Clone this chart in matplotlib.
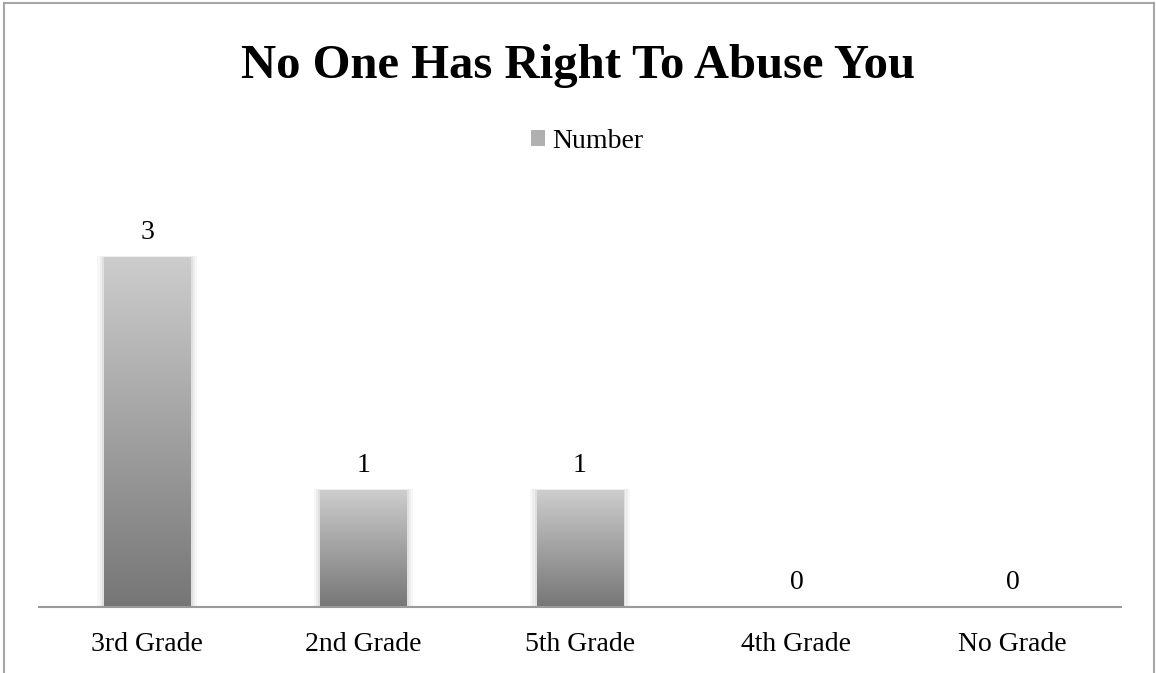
import numpy as np
import matplotlib
matplotlib.use("Agg")
import matplotlib.pyplot as plt
from matplotlib.colors import LinearSegmentedColormap
from matplotlib.patches import Rectangle

categories = ["3rd Grade", "2nd Grade", "5th Grade", "4th Grade", "No Grade"]
values = [3, 1, 1, 0, 0]
series_name = "Number"
title = "No One Has Right To Abuse You"

plt.rcParams["font.family"] = ["Liberation Serif", "DejaVu Serif"]

fig = plt.figure(figsize=(11.56, 6.73), dpi=100)
ax = fig.add_axes([39 / 1156, 1 - 607 / 673, 1082 / 1156, 408 / 673])

# frame around the whole chart (open at the bottom like the source crop)
border = dict(color="#a6a6a6", lw=1.5, transform=fig.transFigure)
fig.add_artist(plt.Line2D([4 / 1156, 4 / 1156], [0, 1 - 3 / 673], **border))
fig.add_artist(plt.Line2D([4 / 1156, 1154 / 1156], [1 - 3 / 673, 1 - 3 / 673], **border))
fig.add_artist(plt.Line2D([1154 / 1156, 1154 / 1156], [0, 1 - 3 / 673], **border))

x = np.arange(len(categories))
bars = ax.bar(x, values, width=0.4, color="none", edgecolor="none")

grad = LinearSegmentedColormap.from_list("g", ["#767676", "#cdcdcd"])
g = np.linspace(0, 1, 256).reshape(-1, 1)
for b in bars:
    h = b.get_height()
    if h <= 0:
        continue
    x0 = b.get_x()
    w = b.get_width()
    # soft shadow
    for k, a in [(0.03, 0.03), (0.02, 0.04), (0.01, 0.05)]:
        ax.add_patch(Rectangle((x0 - k, 0), w + 2 * k, h + k * 0.5, color="black", alpha=a, lw=0, zorder=1))
    ax.imshow(g, cmap=grad, aspect="auto", origin="lower",
              extent=(x0, x0 + w, 0, h), zorder=2)

for xi, v in zip(x, values):
    ax.annotate(str(v), (xi, v), xytext=(0, 13.3), textcoords="offset points",
                ha="center", va="baseline", fontsize=20)

ax.set_xlim(-0.5, len(categories) - 0.5)
ax.set_ylim(0, 3.5)
ax.set_xticks(x)
ax.set_xticklabels(categories, fontsize=20)
ax.tick_params(axis="x", length=0, pad=18)
ax.set_yticks([])
for s in ["top", "right", "left"]:
    ax.spines[s].set_visible(False)
ax.spines["bottom"].set_color("#9a9a9a")
ax.spines["bottom"].set_linewidth(1.5)
ax.spines["bottom"].set_zorder(3)

fig.text(0.5, 1 - 78 / 673, title, ha="center", va="baseline", fontsize=35, fontweight="bold")

handle = Rectangle((0, 0), 1, 1, facecolor="#b0b0b0", edgecolor="none")
fig.legend([handle], [series_name], loc="center", bbox_to_anchor=(587 / 1156, 1 - 141 / 673),
           frameon=False, fontsize=20, handlelength=0.5, handleheight=0.5, handletextpad=0.25,
           borderpad=0)

fig.savefig("out.png", dpi=100)
